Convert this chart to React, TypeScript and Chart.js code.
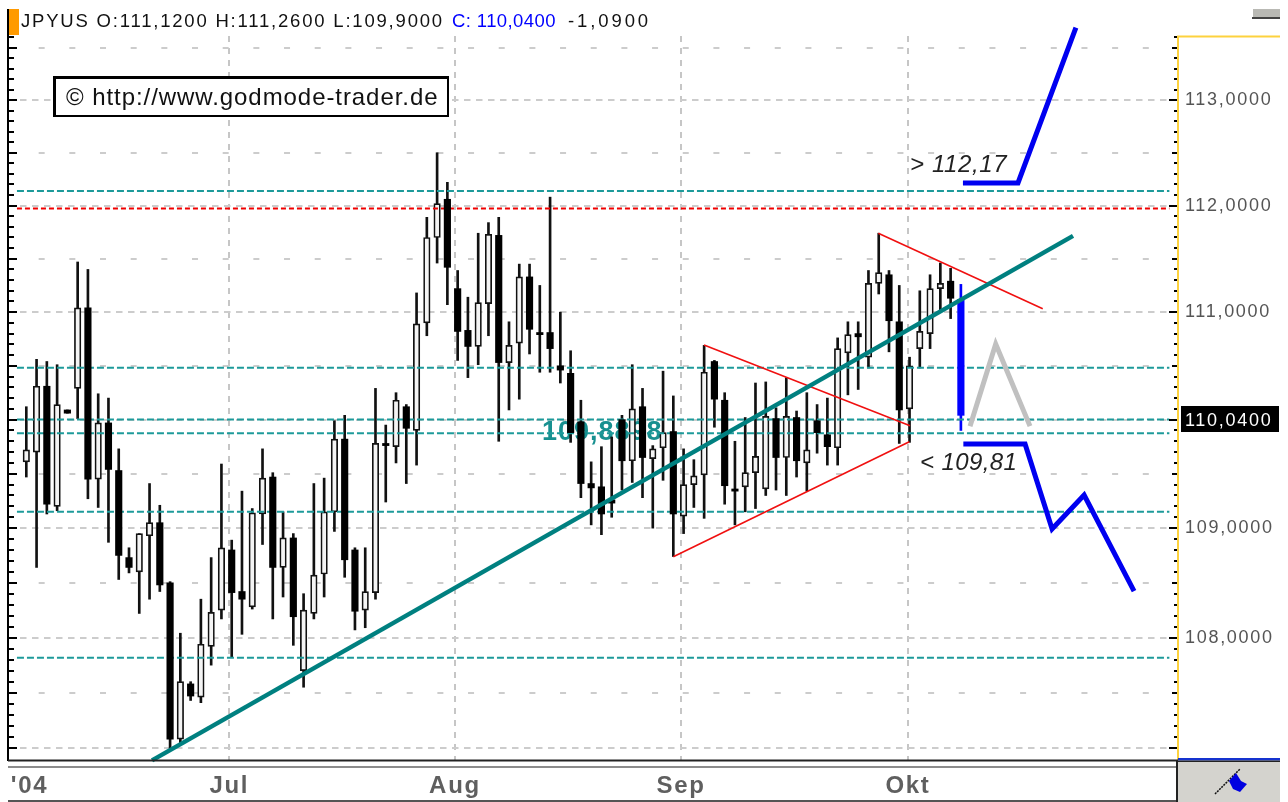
import React, { useEffect, useRef } from "react";
import { Chart, registerables } from "chart.js";

Chart.register(...registerables);

const highs = [110.12,110.56,110.54,110.51,110.09,111.47,111.40,110.24,110.20,109.73,108.82,108.95,109.41,109.21,108.51,108.04,107.60,108.35,108.73,109.59,108.89,109.34,109.18,109.73,109.51,109.15,108.95,108.40,109.41,109.46,109.99,110.04,108.82,108.82,110.29,109.95,110.25,110.14,111.18,111.89,112.50,112.22,111.39,111.14,111.74,111.84,111.89,110.91,111.45,111.45,111.25,112.08,111.00,110.64,110.18,109.61,109.75,109.84,110.04,110.51,110.29,109.76,110.45,110.22,109.73,109.63,110.69,110.55,110.25,109.80,110.02,110.34,110.35,110.11,110.39,110.08,110.25,110.14,110.20,110.76,110.91,110.91,111.39,111.74,111.39,111.25,110.58,111.20,111.35,111.46,111.41,111.26];
const lows = [109.47,108.64,109.13,109.16,110.06,110.01,109.27,109.19,108.87,108.53,108.59,108.22,108.35,108.42,107.00,107.04,107.43,107.41,107.75,108.17,107.82,108.03,108.26,108.85,108.17,108.37,107.93,107.55,108.17,108.37,108.97,108.55,108.07,108.09,108.35,109.24,109.60,109.41,109.58,110.78,111.46,111.07,110.55,110.39,110.51,110.78,109.80,110.09,110.19,110.61,110.44,110.44,110.34,109.79,109.28,109.03,108.94,109.10,109.35,109.42,109.28,109.00,109.44,108.74,108.95,109.19,109.09,109.93,109.22,109.03,109.15,109.18,109.30,109.35,109.30,109.47,109.34,109.69,109.58,109.58,110.23,110.28,110.48,111.17,110.63,109.78,109.79,110.48,110.66,111.00,110.94,109.90];
const opens = [109.61,109.70,110.31,109.20,110.09,110.29,111.04,109.45,109.97,109.53,108.73,108.60,108.93,109.05,108.50,107.08,107.58,107.46,107.92,108.25,108.80,108.42,108.28,109.13,109.47,108.64,108.91,107.70,108.22,108.58,109.15,109.82,108.80,108.25,108.41,109.78,109.75,110.12,109.90,110.90,111.70,112.06,111.22,110.83,110.68,111.08,111.72,110.53,110.71,111.33,110.81,110.81,110.50,110.43,109.98,109.41,109.38,109.26,110.00,109.62,110.12,109.64,109.74,109.89,109.11,109.40,109.49,110.54,110.18,109.36,109.38,109.51,109.36,110.01,109.65,110.02,109.60,109.99,109.86,109.74,110.62,110.80,110.58,111.27,111.35,110.91,110.10,110.66,110.80,111.22,111.29,111.12];
const closes = [109.72,110.31,109.22,110.14,110.06,111.04,109.45,109.97,109.54,108.75,108.64,108.95,109.05,108.48,107.08,107.60,107.47,107.94,108.23,108.82,108.41,108.35,109.14,109.46,108.64,108.91,108.19,108.25,108.57,109.15,109.82,108.71,108.24,108.42,109.78,109.76,110.18,109.92,110.89,111.70,112.02,111.42,110.82,110.68,111.09,111.73,110.53,110.69,111.33,110.84,110.79,110.66,110.46,109.88,109.41,109.37,109.13,109.23,109.62,110.10,109.65,109.73,109.88,109.13,109.40,109.48,110.44,110.19,109.39,109.34,109.51,109.66,110.03,109.65,110.03,109.62,109.72,109.88,109.75,110.66,110.79,110.77,111.27,111.37,110.92,110.09,110.50,110.82,111.22,111.27,111.13,110.04];

const yMin = 106.893;
const yMax = 113.611;
const xMin = -1.782;
const xMax = 112.14;

const priceTicks = [113.6,113.5,113.4,113.3,113.2,113.1,113,112.9,112.8,112.7,112.6,112.5,112.4,112.3,112.2,112.1,112,111.9,111.8,111.7,111.6,111.5,111.4,111.3,111.2,111.1,111,110.9,110.8,110.7,110.6,110.5,110.4,110.3,110.2,110.1,110,109.9,109.8,109.7,109.6,109.5,109.4,109.3,109.2,109.1,109,108.9,108.8,108.7,108.6,108.5,108.4,108.3,108.2,108.1,108,107.9,107.8,107.7,107.6,107.5,107.4,107.3,107.2,107.1,107];
const priceLabels = [113, 112, 111, 109, 108];
const monthTicks = [0.31, 19.77, 41.74, 63.75, 85.85];
const monthLabels = ["'04", "Jul", "Aug", "Sep", "Okt"];

const tealLevels = [112.138, 110.481, 110.002, 109.875, 109.151, 107.818];
const redLevel = 111.973;
const levelStart = -0.91;
const levelEnd = 111.3;

const trendX = [12.24, 101.92];
const trendY = [106.89, 111.715];
const wedgeAX = [65.99, 86.05];
const wedgeAY = [110.693, 109.943];
const wedgeBX = [63.0, 85.98];
const wedgeBY = [108.738, 109.796];
const wedgeCX = [82.96, 98.97];
const wedgeCY = [111.74, 111.032];
const upPathX = [91.2, 96.56, 102.2];
const upPathY = [112.214, 112.214, 113.69];
const downPathX = [91.24, 97.25, 99.88, 103.0, 107.86];
const downPathY = [109.774, 109.774, 108.992, 109.304, 108.424];
const greyPathX = [91.89, 94.39, 97.73];
const greyPathY = [109.94, 110.702, 109.94];

const zip = (xs: number[], ys: number[]) => xs.map((x, i) => ({ x, y: ys[i] }));
const last = closes.length - 1;

const pathSet = (data: any[], color: string, width: number, order: number, extra: any = {}) => ({
  type: "line" as const,
  data,
  borderColor: color,
  backgroundColor: color,
  borderWidth: width,
  pointRadius: 0,
  tension: 0,
  order,
  clip: 30,
  ...extra,
});

function drawText(
  ctx: CanvasRenderingContext2D,
  text: string,
  x: number,
  y: number,
  font: string,
  color: string,
  spacing = "0px",
) {
  ctx.save();
  ctx.font = font;
  ctx.fillStyle = color;
  (ctx as any).letterSpacing = spacing;
  ctx.textAlign = "left";
  ctx.textBaseline = "alphabetic";
  ctx.fillText(text, x, y);
  ctx.restore();
}

const chrome = {
  id: "chrome",
  beforeDraw(chart: any) {
    const ctx = chart.ctx;
    ctx.save();
    ctx.fillStyle = "#ffffff";
    ctx.fillRect(0, 0, 1288, 802);
    ctx.restore();
    ctx.letterSpacing = "1.7px";
  },
  beforeDatasetsDraw(chart: any) {
    drawText(chart.ctx, "109,8898", 542, 440, "bold 27px 'Liberation Sans'", "#179090", "1px");
  },
  afterDraw(chart: any) {
    const ctx = chart.ctx;
    const y = chart.scales.y;
    ctx.save();
    // price axis marks, both sides
    ctx.fillStyle = "#000000";
    ctx.fillRect(7, 9, 2, 752);
    priceTicks.forEach((v) => {
      const p = Math.round(y.getPixelForValue(v));
      const tenth = Math.round(v * 10);
      const whole = tenth % 10 === 0;
      const half = tenth % 5 === 0;
      ctx.fillRect(8, p - 1, half ? 9 : 6, 2);
      const len = whole ? 9 : half ? 6 : 4;
      ctx.fillRect(1178 - len, p - 1, len, 2);
    });
    // yellow frame
    ctx.fillStyle = "#fdd23e";
    ctx.fillRect(1177, 36, 2, 724);
    ctx.fillRect(1177, 35.5, 103, 2);
    // header
    ctx.fillStyle = "#ff9a00";
    ctx.fillRect(9, 9, 10, 26);
    ctx.fillStyle = "#b9b9b4";
    ctx.fillRect(1253, 9, 27, 9);
    ctx.fillStyle = "#444444";
    ctx.fillRect(1252, 17, 28, 2);
    drawText(ctx, "JPYUS O:111,1200 H:111,2600 L:109,9000", 21, 27, "18.5px 'Liberation Sans'", "#111111", "1.8px");
    drawText(ctx, "C: 110,0400", 452, 27, "18.5px 'Liberation Sans'", "#0000ff", "0.4px");
    drawText(ctx, "-1,0900", 568, 27, "18.5px 'Liberation Sans'", "#111111", "2.9px");
    // copyright box
    ctx.fillStyle = "#ffffff";
    ctx.fillRect(53, 77, 396, 40);
    ctx.strokeStyle = "#000000";
    ctx.lineWidth = 2;
    ctx.strokeRect(54, 78, 394, 38);
    ctx.fillStyle = "#000000";
    ctx.fillRect(53, 76, 396, 3);
    ctx.fillRect(53, 76, 3, 41);
    drawText(ctx, "\u00a9 http://www.godmode-trader.de", 66, 105, "24px 'Liberation Sans'", "#111111", "0.93px");
    // targets
    drawText(ctx, "> 112,17", 910, 172, "italic 24px 'Liberation Sans'", "#222222", "0.6px");
    drawText(ctx, "< 109,81", 920, 470, "italic 24px 'Liberation Sans'", "#222222", "0.4px");
    // current price box
    ctx.fillStyle = "#000000";
    ctx.fillRect(1181, 406, 98, 26);
    drawText(ctx, "110,0400", 1185, 425.5, "18px 'Liberation Sans'", "#ffffff", "1.7px");
    // bottom strip
    ctx.fillStyle = "#222222";
    ctx.fillRect(8, 759.5, 1170, 2);
    ctx.fillStyle = "#8c8c8c";
    ctx.fillRect(8, 766, 1169, 2);
    ctx.fillStyle = "#555555";
    ctx.fillRect(8, 800, 1169, 2);
    ctx.fillStyle = "#d4d3ce";
    ctx.fillRect(1177, 761, 103, 41);
    ctx.fillStyle = "#1533cf";
    ctx.fillRect(1178, 758, 102, 2.5);
    ctx.fillStyle = "#222222";
    ctx.fillRect(1178, 760.5, 102, 1.5);
    ctx.fillRect(1176, 760, 2, 42);
    // flag glyph
    ctx.strokeStyle = "#111111";
    ctx.lineWidth = 1.5;
    ctx.setLineDash([2, 1]);
    ctx.beginPath();
    ctx.moveTo(1215, 794);
    ctx.lineTo(1240, 769);
    ctx.stroke();
    ctx.setLineDash([]);
    ctx.fillStyle = "#0000e0";
    ctx.beginPath();
    ctx.moveTo(1236, 773);
    ctx.lineTo(1241, 781);
    ctx.lineTo(1247, 784);
    ctx.lineTo(1240, 792);
    ctx.lineTo(1233, 789);
    ctx.lineTo(1229, 781);
    ctx.closePath();
    ctx.fill();
    ctx.restore();
  },
};

export default function App() {
  const ref = useRef<HTMLCanvasElement>(null);
  useEffect(() => {
    const idx = closes.map((_, i) => i);
    const upIdx = idx.filter((i) => closes[i] >= opens[i]);
    const downIdx = idx.filter((i) => closes[i] < opens[i]);
    const level = (v: number) => [
      { x: levelStart, y: v },
      { x: levelEnd, y: v },
    ];
    const datasets: any[] = [
      {
        type: "bar",
        data: idx.map((i) => ({ x: i, y: [lows[i], highs[i]] })),
        backgroundColor: idx.map((i) => (i === last ? "#0000ff" : "#111111")),
        barThickness: 2,
        grouped: false,
        order: 7,
      },
      {
        type: "bar",
        data: upIdx.map((i) => ({ x: i, y: [opens[i], closes[i]] })),
        backgroundColor: "#f4f4f4",
        borderColor: "#111111",
        borderWidth: 1.7,
        borderSkipped: false,
        barThickness: 6.5,
        grouped: false,
        order: 6,
      },
      ...tealLevels.map((v) =>
        pathSet(level(v), "#1d9a9a", 2, 5, { borderDash: [7, 3] }),
      ),
      pathSet(level(redLevel), "#f00000", 2, 5, { borderDash: [5, 3] }),
      {
        type: "bar",
        data: downIdx.map((i) => ({ x: i, y: [closes[i], opens[i]] })),
        backgroundColor: downIdx.map((i) => (i === last ? "#0000ff" : "#000000")),
        barThickness: 6.5,
        grouped: false,
        order: 4,
      },
      pathSet(zip(wedgeAX, wedgeAY), "#f01010", 1.6, 3),
      pathSet(zip(wedgeBX, wedgeBY), "#f01010", 1.6, 3),
      pathSet(zip(wedgeCX, wedgeCY), "#f01010", 1.6, 3),
      pathSet(zip(trendX, trendY), "#008080", 4.5, 2),
      pathSet(zip(greyPathX, greyPathY), "#c0c0c0", 5, 1),
      pathSet(zip(upPathX, upPathY), "#0000f0", 5, 1),
      pathSet(zip(downPathX, downPathY), "#0000f0", 5, 1),
    ];
    const chart = new Chart(ref.current as HTMLCanvasElement, {
      type: "bar",
      data: { datasets },
      plugins: [chrome],
      options: {
        animation: false,
        responsive: false,
        devicePixelRatio: 1,
        layout: { padding: { left: 8, top: 36, right: 0, bottom: 0 } },
        plugins: { legend: { display: false }, tooltip: { enabled: false } },
        scales: {
          x: {
            type: "linear",
            min: xMin,
            max: xMax,
            offset: false,
            position: "bottom",
            afterBuildTicks: (axis: any) => {
              axis.ticks = monthTicks.map((value) => ({ value }));
            },
            afterFit: (axis: any) => {
              axis.height = 42;
            },
            grid: {
              offset: false,
              drawTicks: false,
              lineWidth: 2,
              color: (c: any) => (c.index === 0 ? "rgba(0,0,0,0)" : "#c6c6c6"),
            },
            border: { display: false, dash: [6, 6] },
            ticks: {
              autoSkip: false,
              maxRotation: 0,
              minRotation: 0,
              padding: 12,
              color: "#5f5f5f",
              font: { family: "'Liberation Sans'", size: 24, weight: "bold" },
              callback: (_v: any, i: number) => monthLabels[i],
            },
          },
          y: {
            type: "logarithmic",
            min: yMin,
            max: yMax,
            position: "right",
            afterBuildTicks: (axis: any) => {
              axis.ticks = priceTicks.map((value) => ({ value }));
            },
            afterFit: (axis: any) => {
              axis.width = 110;
            },
            grid: {
              drawTicks: false,
              lineWidth: 2,
              color: (c: any) =>
                Math.round((c.tick?.value ?? 0) * 10) % 5 === 0 ? "#cccccc" : "rgba(0,0,0,0)",
            },
            border: {
              display: false,
              dash: (c: any) =>
                Math.round((c.tick?.value ?? 0) * 10) % 10 === 0 ? [6.5, 5.5] : [6, 24.67],
            },
            ticks: {
              autoSkip: false,
              maxRotation: 0,
              minRotation: 0,
              padding: 7,
              color: "#555555",
              font: { family: "'Liberation Sans'", size: 18 },
              callback: (v: any) =>
                priceLabels.includes(v) ? Number(v).toFixed(4).replace(".", ",") : "",
            },
          },
        },
      } as any,
    });
    return () => chart.destroy();
  }, []);
  return (
    <div style={{ position: "absolute", left: 0, top: 0, width: 1288, height: 802, overflow: "hidden" }}>
      <canvas ref={ref} width={1288} height={802} style={{ display: "block" }} />
    </div>
  );
}
